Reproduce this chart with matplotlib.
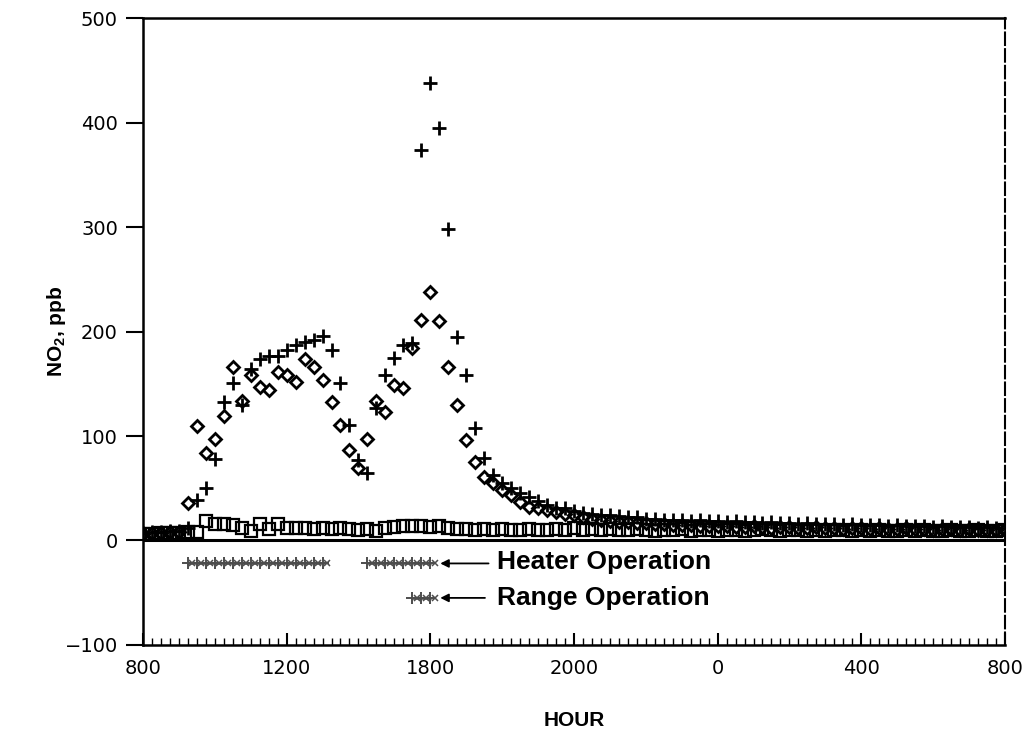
import numpy as np
import matplotlib
matplotlib.use("Agg")
import matplotlib.pyplot as plt
from matplotlib.ticker import MultipleLocator

plt.rcParams['mathtext.fontset'] = 'custom'
plt.rcParams['mathtext.bf'] = 'Liberation Sans:bold'
plt.rcParams['mathtext.default'] = 'bf'

# NO2 readings every 15 min, starting at 800 hours
diamonds = [6, 7, 7, 8, 8,
            36, 110, 84, 97, 119, 166, 134, 158, 147, 144,
            161, 158, 152, 174, 166, 154, 133, 111, 87, 69,
            97, 134, 123, 149, 146, 184, 211, 238, 210, 166,
            130, 96, 75, 61, 55, 48, 44, 37, 32, 31,
            29, 27, 25, 24, 22, 21, 20, 19, 18, 18,
            17, 17, 16, 16, 15, 15, 15, 14, 14, 14,
            14, 13, 13, 14, 13, 12, 13, 13, 12, 12, 13, 12, 12, 11, 12, 12,
            11, 12, 11, 11, 12, 11, 11, 10, 11, 11, 10, 11, 10, 10, 10, 11]
pluses = [7, 8, 8, 9, 9,
          12, 39, 50, 78, 133, 151, 130, 164, 174, 177,
          177, 182, 187, 190, 192, 196, 182, 151, 111, 77,
          65, 127, 158, 175, 187, 189, 374, 438, 395, 298,
          195, 158, 108, 79, 63, 55, 50, 45, 42, 38,
          34, 31, 31, 28, 26, 25, 24, 24, 23, 22,
          22, 21, 21, 20, 20, 20, 19, 20, 19, 19,
          18, 19, 18, 18, 17, 18, 17, 17, 16, 17, 16, 16, 16, 15, 16, 15,
          15, 15, 14, 15, 14, 14, 14, 13, 14, 13, 13, 13, 12, 13, 12, 12]
squares = [6, 6, 7, 7, 7, 8,
           8, 19, 16, 16, 15, 12, 9, 16, 11, 16,
           12, 12, 12, 11, 12, 11, 12, 11, 10, 11,
           9, 12, 13, 14, 14, 14, 13, 14, 12, 11,
           11, 10, 11, 10, 11, 10, 10, 11, 10, 10,
           11, 10, 12, 10, 11, 10, 11, 10, 10, 11, 10, 9, 10, 10, 11, 9, 10,
           10, 9, 10, 10, 9, 10, 11, 10, 9, 10, 10, 9, 10, 9, 10, 10, 9,
           10, 9, 10, 9, 9, 10, 9, 10, 9, 9, 10, 9, 9, 10, 9, 9, 10]

# operation periods (hours after 800)
heater_on = [(1.25, 5.0), (6.25, 8.0)]
range_on = [(7.5, 8.0)]

xtick_labels = ['800', '1200', '1800', '2000', '0', '400', '800']
ytick_vals = [-100, 0, 100, 200, 300, 400, 500]
ytick_labels = ['\u2212100', '0', '100', '200', '300', '400', '500']

fig = plt.figure(figsize=(10.36, 7.32), dpi=100)
ax = fig.add_axes([0.138, 0.119, 0.832, 0.856])

ax.axhline(0, color='black', lw=2.2, zorder=1)

h_sq = np.arange(len(squares)) * 0.25
h_di = np.arange(len(diamonds)) * 0.25
h_pl = np.arange(len(pluses)) * 0.25
ax.plot(h_sq, squares, ls='none', marker='s', ms=8, mfc='none', mec='black', mew=1.6, zorder=2)
ax.plot(h_di, diamonds, ls='none', marker='D', ms=6.5, mfc='none', mec='black', mew=2.0, zorder=3)
ax.plot(h_pl, pluses, ls='none', marker='+', ms=10, mec='black', mew=2.0, zorder=4)

# operation bars
for a, b in heater_on:
    xs = np.arange(a, b + 0.01, 0.25)
    ax.plot(xs, [-22] * len(xs), color='0.3', lw=1.8, marker='+', ms=9, mew=1.4)
    ax.plot(xs + 0.125, [-22] * len(xs), ls='none', color='0.3', marker='x', ms=5, mew=1.1)
for a, b in range_on:
    xs = np.arange(a, b + 0.01, 0.25)
    ax.plot(xs, [-55] * len(xs), color='0.3', lw=1.8, marker='+', ms=9, mew=1.4)
    ax.plot(xs + 0.125, [-55] * len(xs), ls='none', color='0.3', marker='x', ms=5, mew=1.1)

arrow = dict(arrowstyle='-|>', color='black', lw=1.3, mutation_scale=12)
ax.annotate('', xy=(8.2, -22), xytext=(9.7, -22), arrowprops=arrow)
ax.annotate('', xy=(8.2, -55), xytext=(9.6, -55), arrowprops=arrow)
ax.text(9.85, -21, 'Heater Operation', fontsize=19, fontweight='bold',
        family='Liberation Sans', va='center', ha='left')
ax.text(9.85, -55, 'Range Operation', fontsize=19, fontweight='bold',
        family='Liberation Sans', va='center', ha='left')

ax.set_xlim(0, 24)
ax.set_ylim(-100, 500)
ax.set_xticks(range(0, 25, 4))
ax.set_xticklabels(xtick_labels)
ax.xaxis.set_minor_locator(MultipleLocator(0.25))
ax.set_yticks(ytick_vals)
ax.set_yticklabels(ytick_labels)
ax.tick_params(axis='x', which='major', direction='in', length=9, width=1.5, labelsize=14, pad=10)
ax.tick_params(axis='x', which='minor', direction='in', length=5, width=1.0)
ax.tick_params(axis='y', which='major', direction='out', length=12, width=1.5, labelsize=14, pad=6)

for s in ax.spines.values():
    s.set_linewidth(1.8)
ax.spines['right'].set_linestyle((0, (6, 2)))
ax.spines['right'].set_linewidth(1.5)

ax.set_xlabel('HOUR', fontsize=15, fontweight='bold', family='Liberation Sans', labelpad=24)
ax.set_ylabel('NO$_2$, ppb', fontsize=15, fontweight='bold', family='Liberation Sans')
ax.yaxis.set_label_coords(-0.087, 0.5)

fig.savefig('out.png', dpi=100)
